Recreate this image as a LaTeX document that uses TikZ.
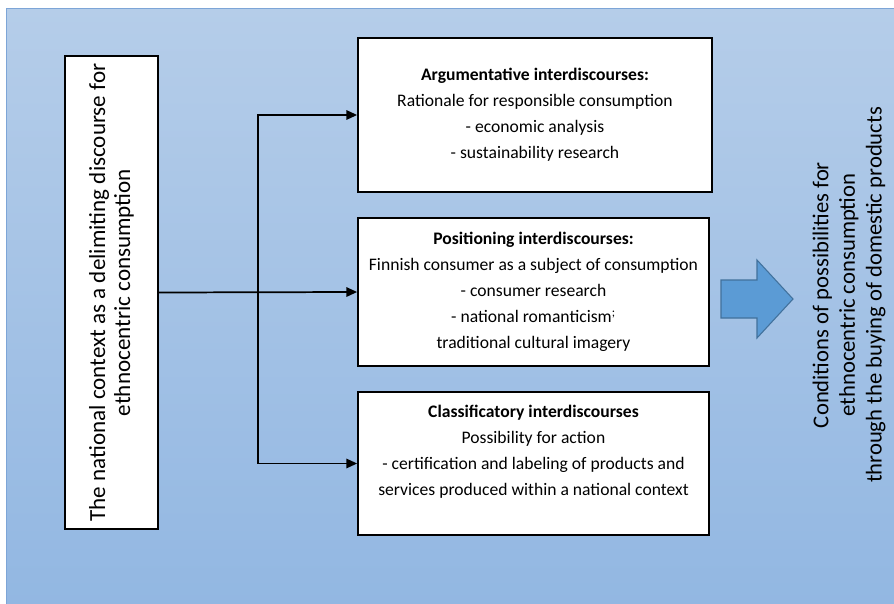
\documentclass[tikz,border=0pt]{standalone}
\usepackage{fontspec}
\setmainfont{Carlito}
\usetikzlibrary{arrows.meta}
\definecolor{fondhaut}{RGB}{181,205,233}
\definecolor{fondbas}{RGB}{146,183,226}
\definecolor{fondbord}{RGB}{125,165,215}
\definecolor{fleche}{RGB}{91,155,213}
\definecolor{flechebord}{RGB}{65,113,156}
\begin{document}
\begin{tikzpicture}[x=0.75pt,y=-0.75pt]
		\tikzstyle{cadre}=[draw,fill=white,line width=1.3pt,inner sep=0pt,align=center,font=\fontsize{13.2}{19.5}\selectfont]
		\tikzstyle{lien}=[line width=1.3pt,-{Triangle[length=8pt,width=7pt]}]
		\useasboundingbox (0,0) rectangle (894,604);
		\shadedraw[top color=fondhaut,bottom color=fondbas,draw=fondbord,line width=0.6pt] (6,8) rectangle (898,608);
		% gauche
		\node[cadre,rotate=90,minimum width=354.75pt,minimum height=69.75pt,font=\fontsize{17.3}{18.75}\selectfont] (gauche) at (111.5,292.5)
			{The national context as a delimiting discourse for\\ethnocentric consumption};
		% trois cadres
		\node[cadre,minimum width=265.5pt,minimum height=115.5pt] (haut) at (535,115)
			{\textbf{Argumentative interdiscourses:}\\Rationale for responsible consumption\\- economic analysis\\- sustainability research};
		\node[cadre,minimum width=263.25pt,minimum height=111pt] (milieu) at (533.5,292)
			{\textbf{Positioning interdiscourses:}\\Finnish consumer as a subject of consumption\\- consumer research\\- national romanticism\textsuperscript{;}\\traditional cultural imagery};
		\node[cadre,minimum width=263.25pt,minimum height=107.25pt] (bas) at (533.5,463.5)
			{\textbf{Classificatory interdiscourses}\\Possibility for action\\- certification and labeling of products and\\services produced within a national context\\\mbox{}};
		% liens
		\coordinate (fourche) at (258,292);
		\draw[lien] (gauche.south) -- (milieu.west);
		\draw[lien] (fourche) |- (haut.west);
		\draw[lien] (fourche) |- (bas.west);
		% grosse fleche
		\draw[fill=fleche,draw=flechebord,line width=0.8pt] (721,280) -- (757,280) -- (757,260) -- (793,299) -- (757,338) -- (757,318) -- (721,318) -- cycle;
		% droite
		\node[rotate=90,align=center,font=\fontsize{17}{20}\selectfont] (resultat) at (849,295)
			{Conditions of possibilities for\\ethnocentric consumption\\through the buying of domestic products};
	\end{tikzpicture}
\end{document}
